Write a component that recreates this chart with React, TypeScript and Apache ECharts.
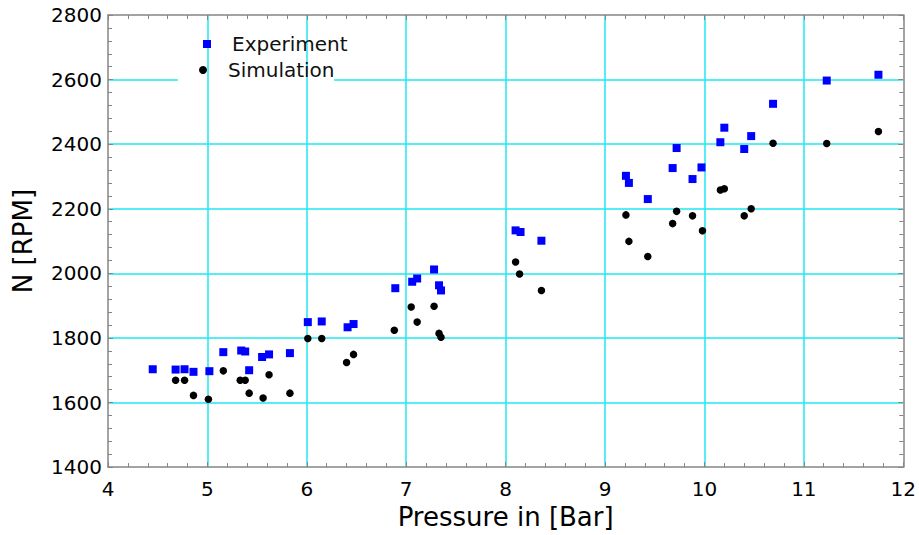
import React, { useEffect, useRef } from "react";
import * as echarts from "echarts";

const experimentPressure = [4.45, 4.68, 4.77, 4.86, 5.02, 5.16, 5.34, 5.38, 5.42, 5.55, 5.62, 5.83, 6.01, 6.15, 6.41, 6.47, 6.89, 7.06, 7.11, 7.28, 7.33, 7.35, 8.1, 8.15, 8.36, 9.21, 9.24, 9.43, 9.68, 9.72, 9.88, 9.97, 10.16, 10.2, 10.4, 10.47, 10.69, 11.23, 11.75];
const experimentRpm = [1703, 1702, 1703, 1695, 1697, 1756, 1761, 1758, 1700, 1741, 1749, 1753, 1849, 1851, 1833, 1843, 1954, 1974, 1984, 2012, 1963, 1947, 2133, 2128, 2101, 2302, 2280, 2230, 2326, 2388, 2292, 2328, 2406, 2451, 2385, 2425, 2525, 2597, 2615];

const simulationPressure = [4.68, 4.77, 4.86, 5.01, 5.16, 5.33, 5.38, 5.42, 5.56, 5.62, 5.83, 6.01, 6.15, 6.4, 6.47, 6.88, 7.05, 7.11, 7.28, 7.33, 7.35, 8.1, 8.14, 8.36, 9.21, 9.24, 9.43, 9.68, 9.72, 9.88, 9.98, 10.16, 10.2, 10.4, 10.47, 10.69, 11.23, 11.75];
const simulationRpm = [1669, 1669, 1622, 1610, 1698, 1669, 1669, 1629, 1614, 1686, 1629, 1798, 1798, 1724, 1749, 1824, 1896, 1849, 1898, 1814, 1802, 2035, 1998, 1947, 2181, 2099, 2052, 2154, 2192, 2178, 2132, 2258, 2262, 2178, 2200, 2403, 2402, 2439];

const seriesNames = ["Experiment", "Simulation"];
const xTitle = "Pressure in [Bar]";
const yTitle = "N [RPM]";

const FONT = "DejaVu Sans";
const AXIS_COLOR = "#858585";
const GRID_COLOR = "#1ee8f0";

function zip(xs: number[], ys: number[]) {
  return xs.map((x, i) => [x, ys[i]]);
}

export default function App() {
  const ref = useRef<HTMLDivElement>(null);
  useEffect(() => {
    if (!ref.current) return;
    document.body.style.margin = "0";
    const chart = echarts.init(ref.current, null, { renderer: "svg" });
    const axisLine = { show: true, onZero: false, lineStyle: { color: AXIS_COLOR, width: 1.5 } };
    const axisTick = { show: true, inside: true, length: 5, lineStyle: { color: AXIS_COLOR, width: 1 } };
    const minorTick = { show: true, splitNumber: 5, length: 4, lineStyle: { color: AXIS_COLOR, width: 1 } };
    const labelStyle = { color: "#000", fontSize: 20, fontFamily: FONT, formatter: (v: number) => String(v) };
    const nameStyle = { color: "#000", fontSize: 26, fontFamily: FONT };
    const gridLine = { show: true, showMinLine: false, showMaxLine: false, lineStyle: { color: GRID_COLOR, width: 1.5 } };
    chart.setOption({
      animation: false,
      backgroundColor: "#fff",
      grid: { left: 108, right: 14, top: 15, bottom: 63, containLabel: false },
      xAxis: [
        {
          type: "value", min: 4, max: 12, interval: 1, position: "bottom", z: 2,
          axisLine, axisTick, minorTick,
          axisLabel: { ...labelStyle, margin: 12 },
          splitLine: gridLine,
          name: xTitle, nameLocation: "middle", nameGap: 34, nameTextStyle: nameStyle,
        },
        {
          type: "value", min: 4, max: 12, interval: 1, position: "top", z: 2,
          axisLine, axisTick, minorTick,
          axisLabel: { show: false },
          splitLine: { show: false },
        },
      ],
      yAxis: [
        {
          type: "value", min: 1400, max: 2800, interval: 200, position: "left", z: 0,
          axisLine, axisTick, minorTick,
          axisLabel: { ...labelStyle, margin: 6 },
          splitLine: gridLine,
          name: yTitle, nameLocation: "middle", nameGap: 72, nameTextStyle: nameStyle,
        },
        {
          type: "value", min: 1400, max: 2800, interval: 200, position: "right", z: 0,
          axisLine, axisTick, minorTick,
          axisLabel: { show: false },
          splitLine: { show: false },
        },
      ],
      graphic: [
        {
          type: "rect", z: 1, silent: true,
          shape: { x: 178, y: 30, width: 156, height: 60 },
          style: { fill: "#fff" },
        },
      ],
      legend: [
        {
          data: [seriesNames[0]], left: 203, top: 34, padding: 0, z: 12,
          itemWidth: 8, itemHeight: 8, icon: "rect",
          textStyle: { color: "#111", fontSize: 20, fontFamily: FONT, padding: [0, 0, 0, 16] },
        },
        {
          data: [seriesNames[1]], left: 199, top: 60, padding: 0, z: 12,
          itemWidth: 8, itemHeight: 8, icon: "circle",
          textStyle: { color: "#111", fontSize: 20, fontFamily: FONT, padding: [0, 0, 0, 16] },
        },
      ],
      series: [
        {
          name: seriesNames[0], type: "scatter", z: 10, symbol: "rect", symbolSize: 8,
          itemStyle: { color: "#0000ff", opacity: 1 },
          data: zip(experimentPressure, experimentRpm),
        },
        {
          name: seriesNames[1], type: "scatter", z: 10, symbol: "circle", symbolSize: 7.5,
          itemStyle: { color: "#000", opacity: 1 },
          data: zip(simulationPressure, simulationRpm),
        },
      ],
    });
    return () => chart.dispose();
  }, []);
  return <div ref={ref} style={{ width: 919, height: 535 }} />;
}
